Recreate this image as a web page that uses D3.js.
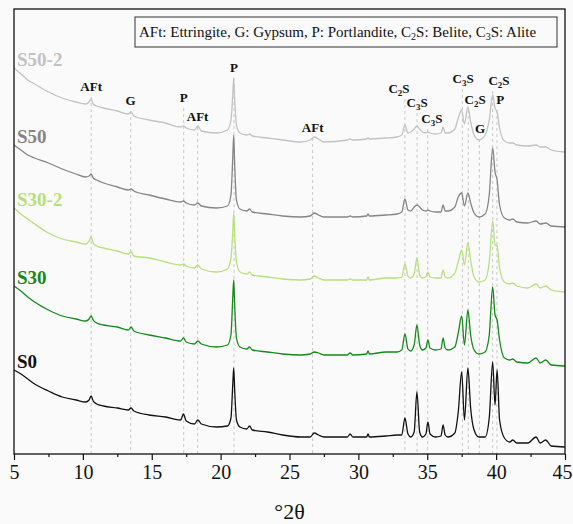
<!DOCTYPE html>
<html>
<head>
<meta charset="utf-8">
<script src="https://cdn.jsdelivr.net/npm/d3@7/dist/d3.min.js"></script>
<style>
  body { margin: 0; background: #fafafa; }
  svg, svg text { font-family: "Liberation Serif", "Times New Roman", serif; }
</style>
</head>
<body>
<div id="chart"></div>
<script>
// ---- 2θ grid shared by all patterns ----
const theta = [
  5.0, 5.5, 6.0, 6.5, 7.5, 8.5, 9.5, 10.2, 10.45, 10.6,
  10.75, 11.0, 11.5, 12.5, 13.3, 13.5, 13.7, 14.8, 16.0, 17.1,
  17.3, 17.5, 18.1, 18.35, 18.6, 19.7, 20.5, 20.75, 20.88, 20.95,
  21.02, 21.15, 21.4, 21.9, 22.1, 22.3, 23.4, 24.5, 25.8, 26.5,
  26.8, 27.1, 27.5, 29.2, 29.4, 29.6, 30.6, 30.7, 30.8, 32.0,
  32.8, 33.15, 33.38, 33.6, 33.8, 34.05, 34.25, 34.45, 34.65, 34.9,
  35.05, 35.2, 35.6, 36.0, 36.15, 36.3, 36.5, 37.0, 37.25, 37.5,
  37.7, 37.95, 38.15, 38.4, 38.75, 39.2, 39.5, 39.75, 39.92, 40.07,
  40.25, 40.6, 41.0, 41.2, 41.5, 42.3, 42.9, 43.2, 43.6, 44.0,
  45.0
];

// ---- intensities (a.u., stacked offsets included) ----
const s0 = [
  84, 80, 75, 70, 63, 57, 54, 52, 54, 58,
  53, 50, 48, 46, 44, 46, 43, 39, 37, 34,
  40, 33, 30, 34, 30, 27, 28, 36, 69, 86,
  64, 34, 27, 25, 28, 24, 22, 19, 17, 17,
  21, 19, 17, 17, 20, 17, 17, 20, 17, 18,
  19, 19, 36, 20, 17, 22, 62, 22, 17, 20,
  32, 20, 17, 18, 29, 19, 17, 21, 42, 82,
  34, 86, 46, 24, 17, 17, 36, 92, 49, 84,
  34, 16, 12, 14, 11, 11, 17, 11, 14, 8,
  7
];
const s30 = [
  168, 163, 157, 152, 144, 138, 135, 133, 135, 138,
  134, 131, 129, 127, 124, 127, 123, 119, 116, 113,
  116, 112, 110, 113, 110, 107, 109, 119, 156, 174,
  149, 116, 107, 105, 107, 104, 102, 100, 99, 100,
  102, 101, 99, 99, 101, 99, 100, 103, 100, 102,
  102, 104, 120, 105, 103, 109, 129, 109, 104, 106,
  114, 106, 104, 105, 116, 106, 104, 107, 121, 138,
  109, 144, 119, 104, 100, 102, 119, 167, 139, 134,
  114, 96, 94, 95, 92, 91, 96, 91, 94, 89,
  88
];
const s30_2 = [
  246, 240, 235, 230, 221, 215, 212, 210, 213, 217,
  211, 208, 206, 203, 200, 202, 198, 196, 192, 189,
  190, 188, 186, 189, 185, 182, 185, 196, 222, 241,
  219, 192, 182, 180, 182, 179, 177, 175, 174, 175,
  178, 176, 174, 174, 175, 174, 174, 177, 174, 176,
  176, 177, 190, 178, 176, 180, 196, 179, 176, 177,
  182, 177, 176, 176, 184, 177, 176, 181, 192, 204,
  189, 211, 194, 177, 172, 174, 192, 233, 209, 208,
  186, 172, 170, 171, 168, 166, 170, 166, 168, 164,
  162
];
const s50 = [
  309, 304, 299, 296, 291, 285, 280, 277, 278, 280,
  276, 274, 271, 267, 264, 265, 263, 259, 255, 252,
  253, 251, 249, 251, 248, 246, 248, 259, 296, 319,
  289, 254, 245, 243, 245, 242, 240, 238, 237, 238,
  241, 239, 237, 237, 238, 237, 238, 240, 238, 239,
  240, 242, 255, 244, 243, 247, 249, 247, 244, 243,
  244, 243, 242, 242, 249, 243, 243, 247, 257, 261,
  248, 261, 251, 241, 237, 240, 259, 306, 282, 274,
  249, 236, 234, 235, 232, 231, 233, 230, 231, 228,
  227
];
const s50_2 = [
  386, 380, 374, 370, 362, 356, 352, 350, 352, 355,
  350, 348, 346, 343, 340, 342, 338, 334, 331, 327,
  328, 326, 324, 328, 323, 321, 324, 334, 359, 376,
  354, 329, 321, 319, 320, 318, 316, 314, 312, 314,
  317, 315, 312, 314, 315, 314, 315, 316, 315, 316,
  317, 319, 329, 321, 322, 325, 328, 325, 322, 321,
  322, 321, 320, 321, 327, 321, 321, 325, 336, 344,
  330, 347, 332, 319, 314, 319, 334, 359, 346, 342,
  326, 313, 311, 311, 309, 308, 309, 307, 307, 304,
  302
];

const seriesNames = ["S50-2", "S50", "S30-2", "S30", "S0"];
const seriesValues = [s50_2, s50, s30_2, s30, s0];
const seriesColors = ["#c2c2c2", "#858585", "#b8e07a", "#15891a", "#111111"];

// ---- phase markers ("|n|" = subscript) ----
const phaseLabels  = ["AFt", "G", "P", "AFt", "P", "AFt", "C|2|S", "C|3|S", "C|3|S", "C|3|S", "C|2|S", "G", "C|2|S", "P"];
const phaseTheta   = [10.6, 13.47, 17.32, 18.33, 20.97, 26.68, 33.38, 34.26, 35.03, 37.55, 37.98, 38.78, 39.75, 40.06];
const phaseLabelAt = [10.6, 13.47, 17.32, 18.33, 20.97, 26.68, 32.95, 34.26, 35.34, 37.6, 38.47, 38.83, 40.21, 40.3];
const phaseLevel   = [363, 349, 352, 333, 382, 322, 361, 347, 331, 371, 350, 321, 369, 350];

const xTicks = [5, 10, 15, 20, 25, 30, 35, 40, 45];
const xMinor = [7.5, 12.5, 17.5, 22.5, 27.5, 32.5, 37.5, 42.5];

const legendText = "AFt: Ettringite, G: Gypsum, P: Portlandite, C|2|S: Belite, C|3|S: Alite";

// ---- layout ----
const W = 573, H = 524;
const margin = { top: 9, right: 8, bottom: 70, left: 14 };
const width = W - margin.left - margin.right;
const height = H - margin.top - margin.bottom;
const FONT = "'Liberation Serif', 'Times New Roman', serif";

const svg = d3.select("#chart").append("svg")
  .attr("width", W).attr("height", H)
  .style("font-family", FONT);
svg.append("rect").attr("width", W).attr("height", H).attr("fill", "#fafafa");

const g = svg.append("g").attr("transform", `translate(${margin.left},${margin.top})`);

const x = d3.scaleLinear().domain([5, 45]).range([0, width]);
const y = d3.scaleLinear().domain([0, 445]).range([height, 0]);

// text with "|n|" subscripts
function richText(sel, str, subSize) {
  const parts = str.split("|");
  parts.forEach((p, i) => {
    if (!p) return;
    const t = sel.append("tspan").text(p);
    if (i % 2 === 1) t.attr("font-size", subSize).attr("dy", 3);
    else if (i > 0) t.attr("dy", -3);
  });
}

// ---- dashed reference lines ----
g.selectAll(".ref")
  .data(phaseTheta)
  .join("line")
  .attr("class", "ref")
  .attr("x1", d => x(d)).attr("x2", d => x(d))
  .attr("y1", (d, i) => y(phaseLevel[i]) + 6)
  .attr("y2", height)
  .attr("stroke", "#c8c8c8")
  .attr("stroke-width", 1)
  .attr("stroke-dasharray", "3,3");

// ---- patterns ----
const line = d3.line()
  .x((d, i) => x(theta[i]))
  .y(d => y(d))
  .curve(d3.curveMonotoneX);

seriesValues.forEach((vals, k) => {
  g.append("path")
    .datum(vals)
    .attr("fill", "none")
    .attr("stroke", seriesColors[k])
    .attr("stroke-width", 1.3)
    .attr("stroke-linejoin", "round")
    .attr("d", line);

  g.append("text")
    .attr("x", 3)
    .attr("y", y(vals[0]) - 2)
    .attr("font-size", 19)
    .attr("font-weight", "bold")
    .attr("fill", seriesColors[k])
    .text(seriesNames[k]);
});

// ---- phase labels ----
phaseLabels.forEach((lab, i) => {
  const t = g.append("text")
    .attr("x", x(phaseLabelAt[i]))
    .attr("y", y(phaseLevel[i]))
    .attr("text-anchor", "middle")
    .attr("font-size", 13)
    .attr("font-weight", "bold")
    .attr("fill", "#111");
  richText(t, lab, 9);
});

// ---- frame ----
g.append("rect")
  .attr("width", width).attr("height", height)
  .attr("fill", "none")
  .attr("stroke", "#111")
  .attr("stroke-width", 1.3);

// ---- axis ----
const ax = g.append("g")
  .attr("transform", `translate(0,${height})`)
  .call(d3.axisBottom(x).tickValues(xTicks).tickSize(6).tickPadding(5));
ax.attr("font-family", null).style("font-family", FONT);
ax.select(".domain").remove();
ax.selectAll("line").attr("stroke", "#111").attr("stroke-width", 1.2);
ax.selectAll("text").attr("font-size", 20).attr("fill", "#111");
// last label sits against the window edge
ax.selectAll("text").filter(d => d === 45).attr("dx", -3);

const axm = g.append("g")
  .attr("transform", `translate(0,${height})`)
  .call(d3.axisBottom(x).tickValues(xMinor).tickSize(3).tickFormat(""));
axm.select(".domain").remove();
axm.selectAll("line").attr("stroke", "#111").attr("stroke-width", 1.2);

g.append("text")
  .attr("x", width / 2)
  .attr("y", height + 65)
  .attr("text-anchor", "middle")
  .attr("font-size", 22)
  .attr("fill", "#111")
  .text("°2θ");

// ---- legend box ----
const lg = svg.append("g").attr("transform", "translate(135,17)");
lg.append("rect")
  .attr("width", 422).attr("height", 30)
  .attr("fill", "#fafafa")
  .attr("stroke", "#333")
  .attr("stroke-width", 1);
const lt = lg.append("text")
  .attr("x", 4).attr("y", 20)
  .attr("font-size", 15)
  .attr("fill", "#111");
richText(lt, legendText, 10);
</script>
</body>
</html>
